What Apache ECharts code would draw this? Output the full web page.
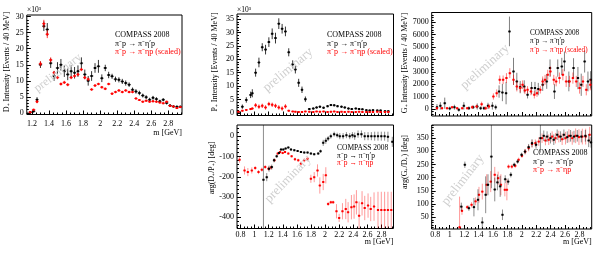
<!DOCTYPE html>
<html><head><meta charset="utf-8">
<script src="https://cdn.jsdelivr.net/npm/echarts@6/dist/echarts.min.js"></script>
<style>html,body{margin:0;padding:0;background:#fff}#c{width:598px;height:264px}</style>
</head><body><div id="c"></div>
<script>
// ---------- D+ intensity (x10^3 events / 40 MeV) ----------
const dMass = [1.18,1.22,1.26,1.30,1.34,1.38,1.42,1.46,1.50,1.54,1.58,1.62,1.66,1.70,1.74,1.78,1.82,1.86,1.90,1.94,1.98,2.02,2.06,2.10,2.14,2.18,2.22,2.26,2.30,2.34,2.38,2.42,2.46,2.50,2.54,2.58,2.62,2.66,2.70,2.74,2.78,2.82,2.86,2.90,2.94];
const dEtaPrime = [0.2,0.5,4.1,15.0,27.0,26.0,15.5,11.5,14.0,15.0,13.0,12.0,13.0,12.5,13.0,15.5,12.0,10.0,11.5,14.0,14.5,10.8,14.0,11.8,11.4,10.5,10.3,9.8,9.3,8.8,7.2,6.7,6.2,5.4,4.9,4.1,4.7,4.3,3.6,4.1,3.1,2.3,2.0,1.9,1.9];
const dEtaPrimeErr = [0.3,0.4,0.8,1.0,1.5,2.0,1.5,1.5,1.8,1.8,1.8,1.8,1.8,1.8,1.8,1.8,1.5,1.5,1.5,1.5,2.0,1.2,1.0,1.0,0.8,0.8,0.8,0.8,0.8,0.7,0.7,0.7,0.7,0.6,0.6,0.6,0.6,0.6,0.5,0.5,0.5,0.4,0.4,0.4,0.4];
const dEta = [0.2,1.0,3.5,15.3,27.8,24.5,16.5,12.5,11.0,9.0,9.5,8.8,11.0,11.5,12.0,13.5,11.0,10.5,7.3,8.5,9.0,8.0,7.5,9.0,6.0,6.5,7.0,6.5,7.0,6.5,6.5,4.5,4.0,3.5,3.8,3.5,3.6,3.5,3.2,3.0,3.5,2.2,2.0,1.5,1.8];
const dEtaErr = [0.2,0.3,0.5,0.8,1.2,1.2,0.8,0.6,0.5,0.5,0.5,0.5,0.5,0.5,0.5,0.5,0.5,0.5,0.4,0.4,0.4,0.4,0.4,0.4,0.4,0.4,0.4,0.4,0.4,0.4,0.4,0.3,0.3,0.3,0.3,0.3,0.3,0.3,0.3,0.3,0.3,0.3,0.3,0.3,0.3];

// ---------- P+ intensity (x10^3) ----------
const pMass = [0.77,0.826,0.882,0.943,0.967,1.014,1.061,1.108,1.155,1.202,1.249,1.296,1.343,1.39,1.437,1.484,1.54,1.578,1.625,1.672,1.72,1.776,1.832,1.879,1.926,1.978,2.035,2.082,2.129,2.176,2.232,2.279,2.331,2.378,2.435,2.482,2.529,2.585,2.632,2.679,2.74,2.787,2.849,2.896];
const pEtaPrime = [0.3,2.3,4.8,6.7,7.3,15.0,18.8,24.5,23.6,26.4,29.5,27.9,33.3,31.4,30.4,22.6,18.1,16.2,11.2,8.6,5.1,1.4,1.6,2.0,2.3,1.9,2.5,2.9,2.8,2.5,2.3,2.0,1.6,1.4,1.6,1.4,1.3,1.0,0.9,1.0,0.9,0.9,0.6,0.6];
const pEtaPrimeErr = [0.3,0.8,1.0,1.2,1.5,1.5,1.8,1.5,1.8,1.8,2.0,2.0,2.0,1.8,1.8,1.5,1.5,1.5,1.5,1.2,1.0,0.4,0.4,0.4,0.4,0.4,0.4,0.4,0.4,0.4,0.4,0.4,0.4,0.3,0.3,0.3,0.3,0.3,0.3,0.3,0.3,0.3,0.3,0.3];
const pEta = [0.4,0.8,1.1,1.4,1.6,2.8,2.3,2.6,2.0,3.3,3.0,2.6,2.0,1.6,2.4,0.8,0.5,0.4,0.3,0.3,0.5,0.4,0.3,0.5,0.4,0.5,0.3,0.4,0.5,0.3,0.4,0.3,0.4,0.3,0.3,0.4,0.3,0.3,0.3,0.3,0.4,0.3,0.3,0.3];
const pEtaErr = [0.2,0.3,0.3,0.4,0.4,0.8,0.8,0.8,0.8,0.8,0.8,0.8,0.8,0.8,0.8,0.3,0.2,0.2,0.2,0.2,0.2,0.2,0.2,0.2,0.2,0.2,0.2,0.2,0.2,0.2,0.2,0.2,0.2,0.2,0.2,0.2,0.2,0.2,0.2,0.2,0.2,0.2,0.2,0.2];

// ---------- arg(D+/P+) [deg] ----------
const phDPMassEtaPrime = [1.125,1.172,1.205,1.243,1.276,1.313,1.346,1.374,1.407,1.44,1.478,1.516,1.563,1.61,1.657,1.704,1.751,1.798,1.845,1.902,1.935,1.973,2.01,2.043,2.081,2.128,2.171,2.208,2.255,2.302,2.349,2.387,2.42,2.467,2.515,2.562,2.609,2.656,2.703,2.75,2.797,2.844,2.891,2.953];
const phDPEtaPrime = [-215,-202,-160,-152,-119,-99,-83,-66,-66,-61,-56,-66,-69,-73,-78,-81,-81,-86,-89,-86,-74,-33,-23,-12,0,10,5,0,0,5,0,5,0,10,10,0,0,0,0,0,0,0,-3,-28];
const phDPEtaPrimeErr = [600,20,15,12,10,8,6,5,5,5,5,5,5,5,5,5,5,5,5,6,8,15,15,12,12,12,12,15,15,15,15,15,18,18,18,20,20,20,22,22,22,22,25,25];
const phDPMassEta = [0.786,0.857,0.904,0.96,1.008,1.055,1.102,1.15,1.197,1.234,1.281,1.328,1.361,1.398,1.431,1.478,1.525,1.572,1.619,1.657,1.704,1.751,1.798,1.845,1.892,1.925,1.973,2.01,2.043,2.081,2.114,2.161,2.199,2.246,2.293,2.326,2.373,2.411,2.444,2.482,2.524,2.562,2.609,2.647,2.694,2.75,2.797,2.844,2.891,2.938];
const phDPEta = [-116,-169,-177,-169,-157,-177,-165,-152,-160,-155,-119,-86,-78,-83,-78,-86,-99,-114,-119,-135,-119,-111,-210,-202,-169,-243,-226,-193,-334,-326,-326,-370,-403,-370,-359,-375,-350,-347,-326,-392,-331,-354,-342,-359,-347,-364,-364,-364,-364,-364];
const phDPEtaErr = [15,20,20,15,10,10,10,10,10,10,8,6,6,6,6,6,6,8,8,10,10,10,20,25,30,40,40,40,10,8,8,35,20,40,50,50,60,60,60,70,60,60,60,60,70,90,90,90,90,90];

// ---------- G+ intensity (events / 40 MeV) ----------
const gMassEtaPrime = [0.823,0.87,0.931,1.0,1.065,1.126,1.196,1.266,1.326,1.382,1.429,1.475,1.531,1.592,1.638,1.685,1.731,1.782,1.829,1.885,1.931,1.978,2.034,2.08,2.136,2.183,2.229,2.29,2.346,2.392,2.453,2.499,2.555,2.592,2.653,2.718,2.779,2.825,2.872,2.918,2.955];
const gEtaPrime = [135,240,460,30,135,-80,240,55,135,190,55,55,240,240,135,1400,1320,1270,6270,3030,2220,1760,1810,1140,1680,1680,1600,1950,2220,3300,1400,3300,3430,3840,2220,3300,2490,1950,3840,2220,2350];
const gEtaPrimeErr = [250,300,450,150,200,150,300,150,150,250,150,150,250,300,200,500,700,900,1200,1100,700,500,500,300,500,500,500,500,600,700,600,700,700,800,800,800,900,900,900,800,700];
const gMassEta = [0.823,0.893,0.963,1.033,1.103,1.173,1.243,1.312,1.373,1.443,1.499,1.545,1.606,1.652,1.694,1.741,1.787,1.834,1.885,1.931,1.978,2.011,2.043,2.08,2.127,2.174,2.211,2.257,2.29,2.323,2.36,2.397,2.444,2.477,2.523,2.57,2.616,2.663,2.709,2.756,2.802,2.849,2.895,2.951];
const gEta = [55,55,55,135,55,55,55,135,190,380,55,190,1000,1270,2350,2350,2490,2890,2350,1810,1680,1950,1490,1540,1400,1140,1270,1540,2220,2350,2760,3030,2350,2220,2490,2760,2220,2220,2490,2220,1680,2220,1540,1950];
const gEtaErr = [100,100,100,100,100,100,100,150,150,200,150,200,250,300,350,350,400,400,400,400,350,350,300,300,300,300,300,300,400,400,400,400,400,400,450,450,450,450,450,450,450,450,450,450];

// ---------- arg(G+/D+) [deg] ----------
const phGDMassEtaPrime = [1.161,1.21,1.266,1.336,1.392,1.452,1.499,1.531,1.578,1.625,1.662,1.70,1.732,1.77,1.811,1.848,1.895,1.942,1.997,2.044,2.095,2.142,2.198,2.258,2.305,2.351,2.398,2.444,2.491,2.538,2.584,2.631,2.677,2.724,2.77,2.826,2.882,2.928,2.96];
const phGDEtaPrime = [90,249,84,88,116,30,135,173,280,155,182,167,59,194,185,211,249,261,287,299,316,331,325,350,359,356,350,344,363,356,363,354,359,356,359,356,359,341,334];
const phGDEtaPrimeErr = [15,12,10,35,40,20,70,40,120,45,30,40,20,15,12,10,8,8,8,10,12,15,15,55,20,20,20,20,20,20,20,22,22,22,22,22,22,25,20];
const phGDMassEta = [1.137,1.17,1.243,1.303,1.359,1.406,1.452,1.513,1.569,1.625,1.672,1.71,1.765,1.793,1.816,1.862,1.909,1.956,2.002,2.048,2.095,2.142,2.188,2.235,2.281,2.328,2.374,2.421,2.467,2.514,2.56,2.607,2.654,2.70,2.747,2.793,2.84,2.886,2.942];
const phGDEta = [12,74,88,97,110,135,147,173,185,211,198,173,154,154,242,242,245,268,283,299,312,328,331,337,350,341,344,356,350,356,346,350,359,350,359,354,356,356,363];
const phGDEtaErr = [116,15,8,10,15,30,30,40,40,30,25,40,25,40,8,8,8,8,8,10,12,14,14,16,18,18,20,20,20,22,22,24,25,25,28,30,30,30,30];

// ---------- tick labels ----------
const xTicksD = [1.2,1.4,1.6,1.8,2.0,2.2,2.4,2.6,2.8];
const xTicksWide = [0.8,1.0,1.2,1.4,1.6,1.8,2.0,2.2,2.4,2.6,2.8];
const yTicksD = [0,5,10,15,20,25,30];
const yTicksP = [0,5,10,15,20,25,30,35];
const yTicksPhDP = [-400,-300,-200,-100,0];
const yTicksG = [0,1000,2000,3000,4000,5000,6000,7000];
const yTicksPhGD = [50,100,150,200,250,300,350];

const FONT = 'Liberation Serif';
const chart = echarts.init(document.getElementById('c'), null, {renderer: 'canvas'});

function steps(min, max, step) {
  const out = [];
  const start = Math.ceil(min / step - 1e-9);
  for (let k = start; k * step <= max + 1e-9; k++) out.push(+(k * step).toFixed(6));
  return out;
}
const fmt = v => String(parseFloat((+v).toFixed(3)));

const panels = [
  {l: 26.8, t: 15, w: 155.2, h: 99.5, x0: 1.14, x1: 2.96, y0: -0.5, y1: 30.5, xt: xTicksD, xm: 0.05, yt: yTicksD, ym: 1, xl: true, xmg: 5},
  {l: 237, t: 14, w: 156.5, h: 101.5, x0: 0.75, x1: 2.97, y0: -1.0, y1: 36.9, xt: xTicksWide, xm: 0.05, yt: yTicksP, ym: 1, xl: false, xmg: 3},
  {l: 237, t: 125, w: 156.5, h: 103.5, x0: 0.75, x1: 2.97, y0: -455, y1: 55, xt: xTicksWide, xm: 0.05, yt: yTicksPhDP, ym: 20, xl: true, xmg: 2},
  {l: 431.7, t: 12.5, w: 160, h: 103.5, x0: 0.75, x1: 2.97, y0: -580, y1: 7800, xt: xTicksWide, xm: 0.05, yt: yTicksG, ym: 200, xl: false, xmg: 3},
  {l: 431.7, t: 125, w: 160, h: 104, x0: 0.75, x1: 2.97, y0: 5, y1: 400, xt: xTicksWide, xm: 0.05, yt: yTicksPhGD, ym: 10, xl: true, xmg: 2}
];

const grids = [], xAxes = [], yAxes = [];
panels.forEach((p, i) => {
  grids.push({left: p.l, top: p.t, width: p.w, height: p.h, show: true, borderColor: '#000', borderWidth: 1, backgroundColor: 'rgba(0,0,0,0)'});
  const lab = {fontFamily: FONT, fontSize: 8, color: '#000'};
  const noLine = {show: false, onZero: false};
  xAxes.push({type: 'value', gridIndex: i, min: p.x0, max: p.x1, position: 'bottom',
    axisLine: noLine, splitLine: {show: false},
    axisTick: {show: true, inside: true, length: 4, customValues: p.xt, lineStyle: {color: '#000', width: 1}},
    axisLabel: Object.assign({show: p.xl, customValues: p.xt, margin: p.xmg, formatter: fmt, hideOverlap: false}, lab)});
  xAxes.push({type: 'value', gridIndex: i, min: p.x0, max: p.x1, position: 'bottom',
    axisLine: noLine, splitLine: {show: false}, axisLabel: {show: false},
    axisTick: {show: true, inside: true, length: 2, customValues: steps(p.x0, p.x1, p.xm), lineStyle: {color: '#000', width: 1}}});
  yAxes.push({type: 'value', gridIndex: i, min: p.y0, max: p.y1, position: 'left',
    axisLine: noLine, splitLine: {show: false},
    axisTick: {show: true, inside: true, length: 4, customValues: p.yt, lineStyle: {color: '#000', width: 1}},
    axisLabel: Object.assign({show: true, customValues: p.yt, margin: 3, formatter: v => String(Math.round(v)), hideOverlap: false}, lab)});
  yAxes.push({type: 'value', gridIndex: i, min: p.y0, max: p.y1, position: 'left',
    axisLine: noLine, splitLine: {show: false}, axisLabel: {show: false},
    axisTick: {show: true, inside: true, length: 2, customValues: steps(p.y0, p.y1, p.ym), lineStyle: {color: '#000', width: 1}}});
});

function errSeries(i, xs, ys, es, color, errColor) {
  const hw = 0.02;
  return {
    type: 'custom', xAxisIndex: 2 * i, yAxisIndex: 2 * i, clip: true, silent: true,
    data: xs.map((x, k) => [x, ys[k], es[k]]),
    encode: {x: 0, y: 1},
    renderItem: function (params, api) {
      const x = api.value(0), y = api.value(1), e = api.value(2);
      const p = api.coord([x, y]);
      const top = api.coord([x, y + e]);
      const bot = api.coord([x, y - e]);
      const lft = api.coord([x - hw, y]);
      const rgt = api.coord([x + hw, y]);
      return {type: 'group', children: [
        {type: 'line', shape: {x1: p[0], y1: top[1], x2: p[0], y2: bot[1]}, style: {stroke: errColor, lineWidth: 1}},
        {type: 'line', shape: {x1: lft[0], y1: p[1], x2: rgt[0], y2: p[1]}, style: {stroke: errColor, lineWidth: 1}},
        {type: 'rect', shape: {x: p[0] - 1, y: p[1] - 1, width: 2, height: 2}, style: {fill: color}}
      ]};
    }
  };
}

const BLK = '#000', RED = '#ff0000';
const series = [
  errSeries(0, dMass, dEtaPrime, dEtaPrimeErr, BLK, 'rgba(0,0,0,0.8)'),
  errSeries(0, dMass, dEta, dEtaErr, RED, 'rgba(255,0,0,0.8)'),
  errSeries(1, pMass, pEtaPrime, pEtaPrimeErr, BLK, 'rgba(0,0,0,0.8)'),
  errSeries(1, pMass, pEta, pEtaErr, RED, 'rgba(255,0,0,0.8)'),
  errSeries(2, phDPMassEta, phDPEta, phDPEtaErr, RED, 'rgba(255,0,0,0.4)'),
  errSeries(2, phDPMassEtaPrime, phDPEtaPrime, phDPEtaPrimeErr, BLK, 'rgba(0,0,0,0.45)'),
  errSeries(3, gMassEtaPrime, gEtaPrime, gEtaPrimeErr, BLK, 'rgba(0,0,0,0.5)'),
  errSeries(3, gMassEta, gEta, gEtaErr, RED, 'rgba(255,0,0,0.5)'),
  errSeries(4, phGDMassEta, phGDEta, phGDEtaErr, RED, 'rgba(255,0,0,0.4)'),
  errSeries(4, phGDMassEtaPrime, phGDEtaPrime, phGDEtaPrimeErr, BLK, 'rgba(0,0,0,0.45)')
];

function txt(x, y, text, opt) {
  opt = opt || {};
  return {type: 'text', x: x, y: y, rotation: opt.rot || 0, z: 100, silent: true,
    style: {text: text, x: 0, y: 0, fill: opt.color || '#000',
      font: (opt.size || 8) + 'px "' + FONT + '"',
      textAlign: opt.align || 'left', textVerticalAlign: opt.va || 'middle'}};
}
const graphics = [];
function legend(x, y, dy, size, scaled) {
  graphics.push(txt(x, y, 'COMPASS 2008', {size: size}));
  graphics.push(txt(x, y + dy, 'π⁻p → π⁻η′p', {size: size}));
  graphics.push(txt(x, y + 2 * dy, scaled ? 'π⁻p → π⁻ηp (scaled)' : 'π⁻p → π⁻ηp', {size: size, color: RED}));
}
function prelim(x, y, angDeg, size) {
  graphics.push(txt(x, y, 'preliminary', {size: size, color: '#cfcfcf', align: 'center', rot: angDeg * Math.PI / 180}));
}
prelim(58, 73, 37, 12);
prelim(288, 70, 40, 13);
prelim(288, 179, 46, 13);
prelim(485, 67, 42, 13);
prelim(463, 180, 52, 13);

legend(115, 35, 8.7, 8, true);
legend(327, 35, 8.7, 8, true);
legend(337, 148.3, 7.5, 7.5, false);
legend(530, 33.3, 8.3, 7.2, true);
legend(533, 153.3, 8.3, 8, false);

const up = Math.PI / 2;
graphics.push(txt(7, 62, 'D₊ Intensity [Events / 40 MeV]', {rot: up, align: 'center'}));
graphics.push(txt(215, 62, 'P₊ Intensity [Events / 40 MeV]', {rot: up, align: 'center'}));
graphics.push(txt(212, 168, 'arg(D₊/P₊) [deg]', {rot: up, align: 'center'}));
graphics.push(txt(405, 63, 'G₊ Intensity [Events / 40 MeV]', {rot: up, align: 'center'}));
graphics.push(txt(405, 162, 'arg(G₊/D₊) [deg]', {rot: up, align: 'center'}));
graphics.push(txt(182, 133, 'm [GeV]', {align: 'right'}));
graphics.push(txt(393.5, 241.7, 'm [GeV]', {align: 'right'}));
graphics.push(txt(591.7, 241.7, 'm [GeV]', {align: 'right'}));
graphics.push(txt(27, 10, '×10³', {size: 7.5}));
graphics.push(txt(237, 10, '×10³', {size: 7.5}));

chart.setOption({
  animation: false,
  backgroundColor: '#fff',
  grid: grids, xAxis: xAxes, yAxis: yAxes,
  series: series,
  graphic: graphics
});
</script></body></html>
